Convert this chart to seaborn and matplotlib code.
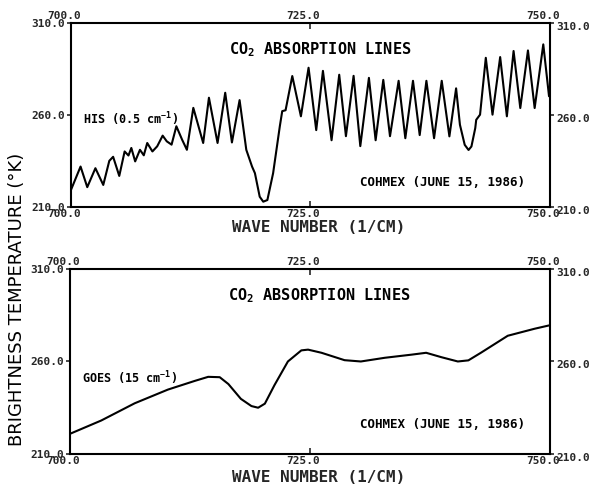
import matplotlib
matplotlib.use("Agg")
import matplotlib.pyplot as plt
import matplotlib.transforms as mtransforms
import numpy as np
import pandas as pd
import seaborn as sns

# HIS interferometer spectrum (0.5 cm-1 resolution)
his_wavenumber = [
    700.0, 701.0, 701.7, 702.55, 703.37, 704.0, 704.4, 705.04, 705.6, 706.0,
    706.3, 706.7, 707.2, 707.6, 707.96, 708.5, 709.0, 709.57, 710.0, 710.5,
    711.0, 711.6, 712.1, 712.77, 713.8, 714.4, 715.3, 716.1, 716.8, 717.6,
    718.3, 718.9, 719.2, 719.7, 720.07, 720.5, 721.1, 721.8, 722.05, 722.4,
    723.1, 724.0, 724.8, 725.6, 726.3, 727.2, 728.0, 728.7, 729.5, 730.2,
    731.1, 731.8, 732.6, 733.3, 734.2, 734.9, 735.7, 736.4, 737.1, 737.9,
    738.7, 739.5, 740.2, 740.6, 741.1, 741.5, 741.8, 742.2, 742.3, 742.7,
    743.3, 744.0, 744.8, 745.5, 746.2, 746.9, 747.7, 748.4, 749.3, 749.9,
]
his_tb = [
    219.3, 232.0, 220.8, 231.1, 222.0, 235.1, 237.3, 226.9, 240.2, 238.0,
    242.1, 234.8, 241.1, 238.1, 244.8, 240.2, 243.0, 248.8, 245.7, 243.9,
    253.9, 246.6, 241.1, 263.9, 244.8, 269.4, 244.8, 272.1, 245.1, 268.1,
    241.1, 232.0, 228.4, 215.6, 212.9, 213.8, 228.4, 253.9, 262.1, 262.6,
    281.2, 259.3, 285.7, 251.8, 284.0, 246.3, 281.9, 248.5, 281.3, 243.1,
    280.2, 246.3, 279.1, 248.5, 278.6, 247.4, 278.6, 249.1, 278.6, 247.4,
    278.6, 248.4, 274.5, 254.7, 243.8, 241.0, 242.9, 252.9, 257.4, 260.2,
    291.1, 260.2, 291.5, 259.3, 294.8, 263.8, 295.1, 263.8, 298.4, 270.2,
]

# GOES sounder equivalent (15 cm-1 resolution)
goes_wavenumber = [
    700.0, 703.26, 706.74, 710.2, 713.0, 714.4, 715.6, 716.5, 717.8, 718.9,
    719.6, 720.3, 721.3, 722.7, 724.1, 724.8, 726.2, 728.6, 730.3, 732.8,
    735.6, 737.1, 738.7, 740.4, 741.5, 742.8, 745.6, 748.4, 750.0,
]
goes_tb = [
    220.9, 228.1, 237.4, 244.8, 249.5, 251.7, 251.5, 247.8, 239.8, 235.9,
    235.0, 237.2, 247.2, 260.0, 266.0, 266.4, 264.7, 260.7, 260.0, 262.0,
    263.7, 264.7, 262.3, 260.0, 260.6, 264.7, 273.9, 277.7, 279.6,
]

x_ticks = [700.0, 725.0, 750.0]
x_tick_labels = ["700.0", "725.0", "750.0"]
y_ticks = [210.0, 260.0, 310.0]
y_tick_labels = ["210.0", "260.0", "310.0"]

panel_title = "CO$_2$ ABSORPTION LINES"
instrument_labels = ["HIS (0.5 cm$^{-1}$)", "GOES (15 cm$^{-1}$)"]
campaign_label = "COHMEX (JUNE 15, 1986)"
x_label = "WAVE NUMBER (1/CM)"
y_label = "BRIGHTNESS TEMPERATURE (\u00b0K)"

sns.set_style("ticks")
plt.rcParams["font.family"] = ["DejaVu Sans Mono", "DejaVu Sans"]
plt.rcParams["font.weight"] = "bold"
plt.rcParams["mathtext.default"] = "regular"
plt.rcParams["axes.linewidth"] = 1.5
plt.rcParams["text.color"] = "black"

fig = plt.figure(figsize=(5.91, 4.87), dpi=100)
fig.patch.set_facecolor("white")

ax_top = fig.add_axes([0.1201, 0.5749, 0.8105, 0.3778])
ax_bot = fig.add_axes([0.1184, 0.0678, 0.8122, 0.3799])

his_df = pd.DataFrame({"wavenumber": his_wavenumber, "tb": his_tb})
goes_df = pd.DataFrame({"wavenumber": goes_wavenumber, "tb": goes_tb})

sns.lineplot(data=his_df, x="wavenumber", y="tb", ax=ax_top, color="black",
             linewidth=1.5, estimator=None, sort=False)
sns.lineplot(data=goes_df, x="wavenumber", y="tb", ax=ax_bot, color="black",
             linewidth=1.5, estimator=None, sort=False)

# plotter-style label nudges, in pixels
x_label_shift = mtransforms.ScaledTranslation(-7 / 100, 0, fig.dpi_scale_trans)
right_label_shift = mtransforms.ScaledTranslation(0, -3 / 100, fig.dpi_scale_trans)

panels = [
    (ax_top, instrument_labels[0], 0.48, 0.132, -0.114),
    (ax_bot, instrument_labels[1], 0.41, 0.157, -0.128),
]
for ax, inst, iy, cy, xl_y in panels:
    ax.set_facecolor("white")
    ax.set_xlim(700, 750)
    ax.set_ylim(210, 310)
    for s in ax.spines.values():
        s.set_visible(True)
        s.set_color("black")
        s.set_linewidth(1.5)
    ax.set_xticks(x_ticks)
    ax.set_xticklabels(x_tick_labels)
    ax.set_yticks(y_ticks)
    ax.set_yticklabels(y_tick_labels)
    ax.tick_params(axis="x", direction="in", top=True, bottom=True,
                   labeltop=True, labelbottom=True, length=4, width=1.2,
                   pad=1.5, labelsize=8)
    ax.tick_params(axis="y", direction="out", left=True, right=True,
                   labelleft=True, labelright=True, length=3, width=1.2,
                   pad=1.5, labelsize=8)
    for tick in ax.xaxis.get_major_ticks():
        for lab in (tick.label1, tick.label2):
            lab.set_fontweight("bold")
            lab.set_transform(lab.get_transform() + x_label_shift)
    for tick in ax.yaxis.get_major_ticks():
        tick.label1.set_fontweight("bold")
        tick.label2.set_fontweight("bold")
        tick.label2.set_transform(tick.label2.get_transform() + right_label_shift)
    ax.set_xlabel(x_label, fontsize=11.5, fontweight="bold", va="center")
    ax.xaxis.set_label_coords(0.517, xl_y)
    ax.set_ylabel("")
    ax.text(0.52, 0.855, panel_title, transform=ax.transAxes, ha="center",
            va="center", fontsize=11, fontweight="bold")
    ax.text(0.025, iy, inst, transform=ax.transAxes,
            ha="left", va="center", fontsize=8.5, fontweight="bold")
    ax.text(0.776, cy, campaign_label, transform=ax.transAxes, ha="center",
            va="center", fontsize=9, fontweight="bold")

fig.text(0.029, 0.385, y_label, rotation=90, ha="center", va="center",
         fontsize=13, fontweight="normal", family=["DejaVu Sans"])

fig.savefig("out.png", dpi=100, facecolor="white")
